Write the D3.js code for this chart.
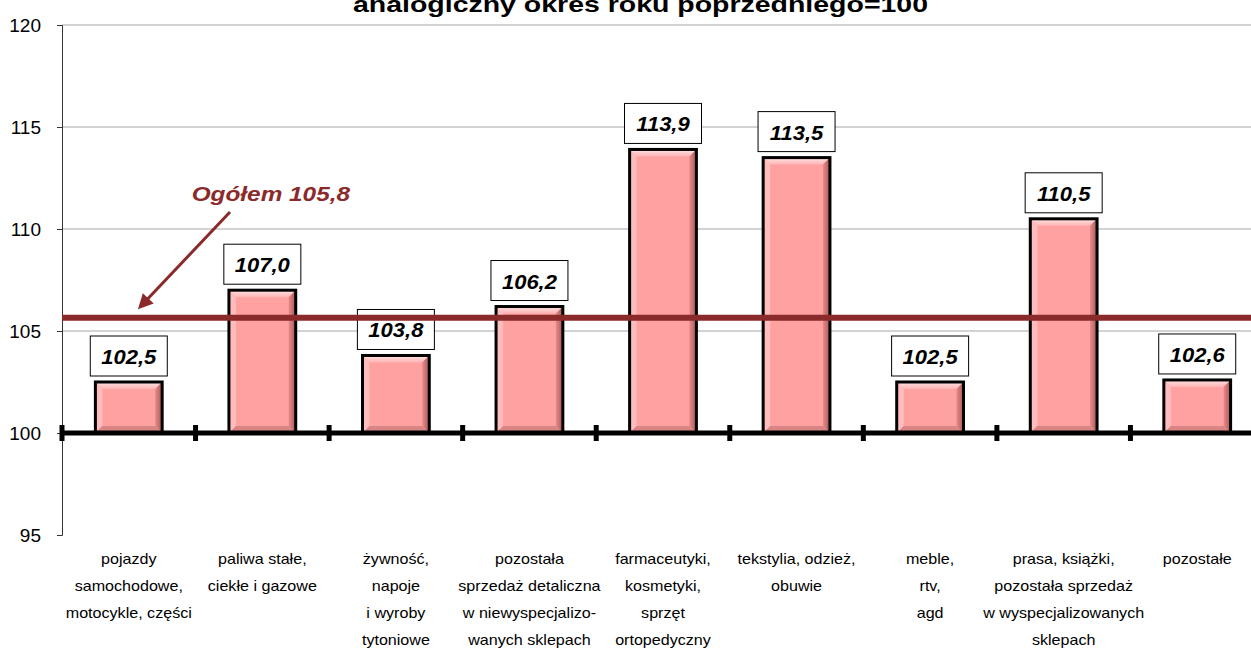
<!DOCTYPE html>
<html>
<head>
<meta charset="utf-8">
<script src="https://cdn.jsdelivr.net/npm/d3@7"></script>
<style>
  body { margin: 0; background: #fff; }
  svg { font-family: "Liberation Sans", Arial, sans-serif; }
</style>
</head>
<body>
<div id="chart"></div>
<script>
// data
const categories = ["pojazdy", "paliwa", "zywnosc", "pozostala", "farmaceutyki", "tekstylia", "meble", "prasa", "pozostale"]
const categoryLines = [
    ["pojazdy", "samochodowe,", "motocykle, części"],
    ["paliwa stałe,", "ciekłe i gazowe"],
    ["żywność,", "napoje", "i wyroby", "tytoniowe"],
    ["pozostała", "sprzedaż detaliczna", "w niewyspecjalizo-", "wanych sklepach"],
    ["farmaceutyki,", "kosmetyki,", "sprzęt", "ortopedyczny"],
    ["tekstylia, odzież,", "obuwie"],
    ["meble,", "rtv,", "agd"],
    ["prasa, książki,", "pozostała sprzedaż", "w wyspecjalizowanych", "sklepach"],
    ["pozostałe"]
]
const values = [102.5, 107.0, 103.8, 106.2, 113.9, 113.5, 102.5, 110.5, 102.6]
const yTicks = [95, 100, 105, 110, 115, 120]
const totalLine = 105.65
const totalLabel = "Ogółem 105,8"
const title = "analogiczny okres roku poprzedniego=100"

const W = 1251, H = 648
const svg = d3.select('#chart').append('svg')
    .attr('width', W).attr('height', H)

const x = d3.scaleBand().domain(categories).range([62, 1264]).paddingInner(0.5).paddingOuter(0.25)
const y = d3.scaleLinear().domain([95, 120]).range([535, 25])

const defs = svg.append('defs')
const topG = defs.append('linearGradient').attr('id', 'bevTop').attr('x1', 0).attr('y1', 0).attr('x2', 0).attr('y2', 1)
topG.append('stop').attr('offset', 0).attr('stop-color', '#ffe4e4')
topG.append('stop').attr('offset', 1).attr('stop-color', '#ffb4b4')
const rightG = defs.append('linearGradient').attr('id', 'bevRight').attr('x1', 0).attr('y1', 0).attr('x2', 1).attr('y2', 0)
rightG.append('stop').attr('offset', 0).attr('stop-color', '#e88a8a')
rightG.append('stop').attr('offset', 1).attr('stop-color', '#a85858')

// grid lines
svg.append('g').selectAll('line')
    .data(yTicks.filter(t => t > 100))
    .join('line')
    .attr('x1', 62).attr('x2', W)
    .attr('y1', d => y(d)).attr('y2', d => y(d))
    .attr('stroke', '#a6a6a6').attr('stroke-width', 1)

// y axis
const yAxis = svg.append('g')
    .attr('transform', 'translate(62,0)')
    .call(d3.axisLeft(y).tickValues(yTicks).tickSize(5).tickPadding(16))
yAxis.select('.domain').attr('stroke', '#333')
yAxis.selectAll('.tick line').attr('stroke', '#333')
yAxis.selectAll('text').attr('font-size', 19).attr('fill', '#000')

// bars
const bw = x.bandwidth()
const bars = svg.append('g').selectAll('g')
    .data(values)
    .join('g')
    .attr('transform', (d, i) => `translate(${x(categories[i])},${y(d)})`)

bars.append('rect')
    .attr('width', bw)
    .attr('height', d => y(100) - y(d))
    .attr('fill', '#ffa1a1')

const bev = 7
bars.append('path')
    .attr('d', d => `M0,0 L${bw},0 L${bw - bev},${bev} L${bev},${bev} Z`)
    .attr('fill', 'url(#bevTop)')
bars.append('path')
    .attr('d', d => { const h = y(100) - y(d); return `M${bw},0 L${bw},${h} L${bw - bev},${h - bev} L${bw - bev},${bev} Z` })
    .attr('fill', 'url(#bevRight)')
bars.append('path')
    .attr('d', d => { const h = y(100) - y(d); return `M0,0 L${bev},${bev} L${bev},${h - bev} L0,${h} Z` })
    .attr('fill', '#ffbcbc')
bars.append('path')
    .attr('d', d => { const h = y(100) - y(d); return `M0,${h} L${bev},${h - bev} L${bw - bev},${h - bev} L${bw},${h} Z` })
    .attr('fill', '#d98585')
bars.append('rect')
    .attr('width', bw)
    .attr('height', d => y(100) - y(d))
    .attr('fill', 'none')
    .attr('stroke', '#000').attr('stroke-width', 3)

// value labels
const lbl = svg.append('g').selectAll('g')
    .data(values)
    .join('g')
    .attr('transform', (d, i) => `translate(${x(categories[i]) + bw / 2},${y(d) - 6})`)
lbl.append('rect')
    .attr('x', -38.5).attr('y', -40).attr('width', 77).attr('height', 40)
    .attr('fill', '#fff').attr('stroke', '#000').attr('stroke-width', 1)
lbl.append('text')
    .attr('transform', 'translate(0,-12) scale(1.1,1)')
    .attr('text-anchor', 'middle')
    .attr('font-size', 20).attr('font-weight', 'bold').attr('font-style', 'italic')
    .text(d => d.toFixed(1).replace('.', ','))

// baseline at 100
svg.append('line')
    .attr('x1', 60).attr('x2', W)
    .attr('y1', y(100)).attr('y2', y(100))
    .attr('stroke', '#000').attr('stroke-width', 5)
const step = x.step()
svg.append('g').selectAll('line')
    .data(d3.range(categories.length))
    .join('line')
    .attr('x1', i => 62 + i * step).attr('x2', i => 62 + i * step)
    .attr('y1', y(100) - 8).attr('y2', y(100) + 8)
    .attr('stroke', '#000').attr('stroke-width', 5)

// total line
svg.append('line')
    .attr('x1', 62).attr('x2', W)
    .attr('y1', y(totalLine)).attr('y2', y(totalLine))
    .attr('stroke', '#8b2a2a').attr('stroke-width', 6)

// arrow + label
defs.append('marker').attr('id', 'arrow')
    .attr('viewBox', '0 0 10 10').attr('refX', 8).attr('refY', 5)
    .attr('markerWidth', 6).attr('markerHeight', 5).attr('orient', 'auto')
    .append('path').attr('d', 'M0,0 L10,5 L0,10 Z').attr('fill', '#8b2a2a')
svg.append('line')
    .attr('x1', 230).attr('y1', 212).attr('x2', 140).attr('y2', 307)
    .attr('stroke', '#8b2a2a').attr('stroke-width', 3)
    .attr('marker-end', 'url(#arrow)')
svg.append('text')
    .attr('transform', 'translate(350,201) scale(1.16,1)')
    .attr('text-anchor', 'end')
    .attr('font-size', 21).attr('font-weight', 'bold').attr('font-style', 'italic')
    .attr('fill', '#8b2a2a')
    .text(totalLabel)

// category labels
svg.append('g').selectAll('text')
    .data(categoryLines)
    .join('text')
    .attr('text-anchor', 'middle')
    .attr('font-size', 14)
    .attr('transform', (d, i) => `translate(${x(categories[i]) + bw / 2},564) scale(1.15,1)`)
    .selectAll('tspan')
    .data(d => d)
    .join('tspan')
    .attr('x', 0)
    .attr('dy', (d, j) => j === 0 ? 0 : 27)
    .text(d => d)

// title (top line cut off in the source)
svg.append('text')
    .attr('x', 353).attr('y', 12)
    .attr('font-size', 22).attr('font-weight', 'bold')
    .attr('textLength', 575).attr('lengthAdjust', 'spacingAndGlyphs')
    .text(title)
</script>
</body>
</html>
